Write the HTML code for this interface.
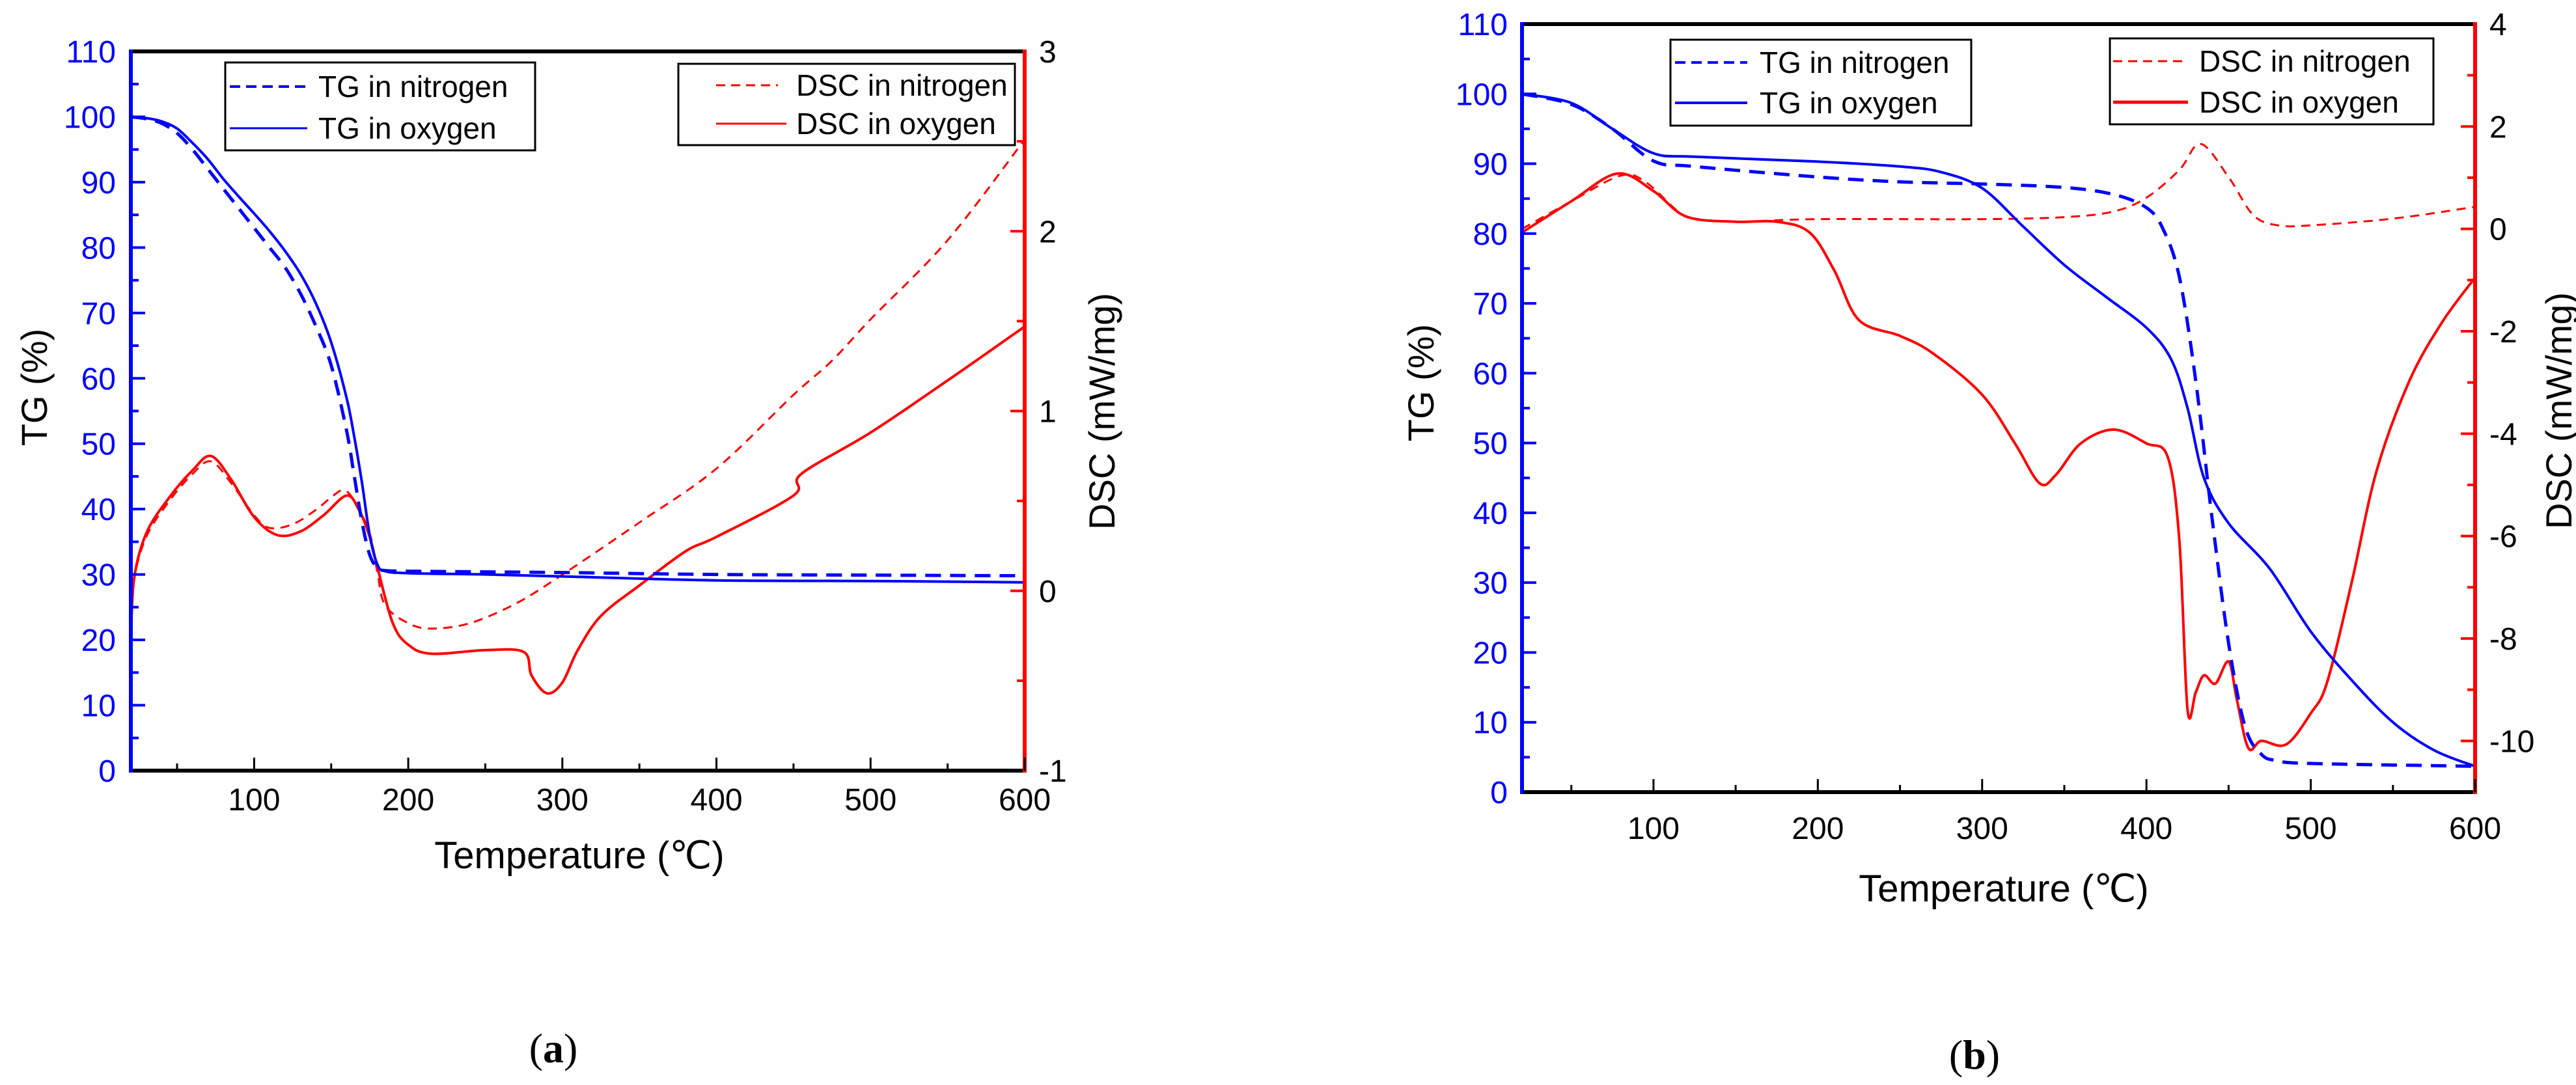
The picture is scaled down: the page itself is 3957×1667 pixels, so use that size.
<!DOCTYPE html>
<html><head><meta charset="utf-8">
<style>
html,body{margin:0;padding:0;background:#fff;}
svg{display:block;font-family:"Liberation Sans",Arial,sans-serif;}
</style></head>
<body>
<svg id="fig" width="3957" height="1667" viewBox="0 0 3957 1667" xmlns="http://www.w3.org/2000/svg"></svg>
<script>
// ---- Panel (a) data ----
const aTgTemps = [20,30,40,50,60,70,80,90,100,110,120,130,140,150,160,165,170,175,180,185,200,250,300,400,500,600];
const aTgNitrogen = [100,99.7,99,97.5,95,92,89,86,83,80,77,73,68,62,52,45,38,33,31,30.6,30.5,30.4,30.3,30,29.9,29.8];
const aTgOxygen = [100,99.8,99.3,98.2,96,93.5,90.5,87.8,85.2,82.5,79.5,76,71.5,65.5,57,51,44,36,31.5,30.5,30.2,30,29.7,29.1,29,28.8];
const aDscNTemps = [20,22,30,45,60,72,85,100,110,125,140,150,158,165,175,180,185,200,215,240,270,300,350,400,450,475,500,550,600];
const aDscNitrogen = [-0.3,0.05,0.3,0.5,0.65,0.72,0.6,0.42,0.35,0.37,0.45,0.52,0.56,0.5,0.32,0.1,-0.08,-0.18,-0.21,-0.18,-0.07,0.09,0.38,0.68,1.09,1.28,1.51,1.95,2.51];
const aDscOTemps = [20,22,30,45,60,72,85,100,115,130,145,160,168,175,180,190,200,215,250,275,280,290,300,310,325,350,380,400,450,455,500,550,600];
const aDscOxygen = [-0.3,0.06,0.32,0.52,0.67,0.75,0.62,0.41,0.31,0.33,0.42,0.53,0.45,0.3,0.13,-0.18,-0.3,-0.35,-0.33,-0.34,-0.47,-0.57,-0.51,-0.33,-0.14,0.03,0.22,0.3,0.53,0.65,0.88,1.17,1.47];
// ---- Panel (b) data ----
const bTgNTemps = [20,50,75,100,125,200,250,300,350,380,400,410,420,430,440,450,460,470,480,500,600];
const bTgNitrogen = [100,98.5,95,90.4,89.6,88.1,87.4,87.1,86.6,85.6,83.7,80.7,73.8,58.9,39.1,21.3,9.4,5.4,4.5,4.1,3.7];
const bTgOTemps = [20,50,75,100,125,200,250,275,300,325,350,375,400,415,425,435,450,475,500,525,550,575,600];
const bTgOxygen = [100,98.7,95,91.5,91,90.3,89.6,88.8,86.5,81,75.5,71,66.5,62,55,45,38.5,32,23,16,10,6,3.7];
const bDscNTemps = [20,50,80,95,115,125,150,200,300,350,380,400,420,433,450,465,480,500,550,600];
const bDscNitrogen = [0,0.54,1.04,0.92,0.34,0.2,0.14,0.19,0.19,0.23,0.34,0.61,1.15,1.66,1.01,0.27,0.07,0.07,0.2,0.43];
const bDscOTemps = [20,50,78,100,120,150,175,195,210,225,250,270,300,320,335,345,360,380,400,413,420,425,430,435,442,450,455,462,470,485,500,510,525,540,560,580,600];
const bDscOxygen = [-0.07,0.54,1.08,0.74,0.24,0.14,0.14,-0.07,-0.81,-1.78,-2.09,-2.43,-3.24,-4.19,-4.97,-4.8,-4.19,-3.92,-4.19,-4.46,-6.08,-9.39,-9.05,-8.72,-8.88,-8.45,-9.19,-10.14,-10.0,-10.07,-9.46,-8.85,-6.89,-4.73,-2.97,-1.82,-0.95];
const xTickLabels = [100,200,300,400,500,600];
const tgTickLabels = [0,10,20,30,40,50,60,70,80,90,100,110];
const aDscTickLabels = [-1,0,1,2,3];
const bDscTickLabels = [-10,-8,-6,-4,-2,0,2,4];

const NS='http://www.w3.org/2000/svg';
const svg=document.getElementById('fig');
function mk(tag,attrs,parent){const e=document.createElementNS(NS,tag);for(const k in attrs)e.setAttribute(k,attrs[k]);(parent||svg).appendChild(e);return e;}
function smooth(pts){
  let d='M'+pts[0][0].toFixed(1)+','+pts[0][1].toFixed(1);
  for(let i=0;i<pts.length-1;i++){
    const p0=pts[Math.max(0,i-1)],p1=pts[i],p2=pts[i+1],p3=pts[Math.min(pts.length-1,i+2)];
    const c1=[p1[0]+(p2[0]-p0[0])/6,p1[1]+(p2[1]-p0[1])/6];
    const c2=[p2[0]-(p3[0]-p1[0])/6,p2[1]-(p3[1]-p1[1])/6];
    d+=' C'+c1[0].toFixed(1)+','+c1[1].toFixed(1)+' '+c2[0].toFixed(1)+','+c2[1].toFixed(1)+' '+p2[0].toFixed(1)+','+p2[1].toFixed(1);
  }
  return d;
}
function panel(c){
  const g=mk('g',{});
  
  
  const sx=v=>c.L+(v-20)/(600-20)*(c.R-c.L);
  const sy=v=>c.B-(v/110)*(c.B-c.T);
  const sd=v=>c.B-(v-c.dMin)/(c.dMax-c.dMin)*(c.B-c.T);
  // series
  function series(xs,ys,scale,color,w,dash,name){
    const p=mk('path',{d:smooth(xs.map((x,i)=>[sx(x),scale(ys[i])])),fill:'none',stroke:color,'stroke-width':w,'stroke-linejoin':'round'},g);
    if(dash)p.setAttribute('stroke-dasharray',dash);
    
    
  }
  series(c.dnx,c.dny,sd,'#ff0000',3,'14 10','dsc-nitrogen-line');
  series(c.dox,c.doy,sd,'#ff0000',4,null,'dsc-oxygen-line');
  series(c.tnx,c.tny,sy,'#0000ff',5,'24 14','tg-nitrogen-line');
  series(c.tox,c.toy,sy,'#0000ff',4,null,'tg-oxygen-line');
  // axes
  const top=mk('line',{x1:c.L,y1:c.T,x2:c.R,y2:c.T,stroke:'#000','stroke-width':6},g);
  
  const bot=mk('line',{x1:c.L,y1:c.B,x2:c.R,y2:c.B,stroke:'#000','stroke-width':6},g);
  
  const la=mk('line',{x1:c.L,y1:c.T-3,x2:c.L,y2:c.B+3,stroke:'#0000ff','stroke-width':6},g);
  
  const ra=mk('line',{x1:c.R,y1:c.T-3,x2:c.R,y2:c.B+3,stroke:'#ff0000','stroke-width':6},g);
  
  // x ticks
  for(let v=50;v<=600;v+=50){
    const maj=v%100===0;
    mk('line',{x1:sx(v),y1:c.B,x2:sx(v),y2:c.B-(maj?20:11),stroke:'#000','stroke-width':3},g);
  }
  xTickLabels.forEach(v=>{
    const t=mk('text',{x:sx(v),y:c.xLabY,'font-size':48,'text-anchor':'middle',fill:'#000'},g);
    t.textContent=v;
    
  });
  // TG ticks
  for(let v=5;v<110;v+=5){
    const maj=v%10===0;
    mk('line',{x1:c.L,y1:sy(v),x2:c.L+(maj?22:12),y2:sy(v),stroke:'#0000ff','stroke-width':4},g);
  }
  tgTickLabels.forEach(v=>{
    const t=mk('text',{x:c.L-c.lGap,y:sy(v)+17,'font-size':48,'text-anchor':'end',fill:'#0000ff'},g);
    t.textContent=v;
    
  });
  // DSC ticks
  for(let v=c.dMin+c.dMinor;v<c.dMax;v+=c.dMinor){
    const maj=Math.abs(v/c.dMajor-Math.round(v/c.dMajor))<1e-6;
    mk('line',{x1:c.R,y1:sd(v),x2:c.R-(maj?22:12),y2:sd(v),stroke:'#ff0000','stroke-width':4},g);
  }
  c.dLabels.forEach(v=>{
    const t=mk('text',{x:c.R+c.rGap,y:sd(v)+17,'font-size':48,'text-anchor':'start',fill:'#000'},g);
    t.textContent=v;
    
  });
  // axis titles
  const xt=mk('text',{x:c.xtX,y:c.xtY,'font-size':58,'text-anchor':'middle',fill:'#000'},g);
  xt.textContent='Temperature (\u2103)';
  
  const yt=mk('text',{x:0,y:0,'font-size':56,'text-anchor':'middle',fill:'#000',transform:`translate(${c.ytX},${c.ytY}) rotate(-90)`},g);
  yt.textContent='TG (%)';
  
  const dt=mk('text',{x:0,y:0,'font-size':56,'text-anchor':'middle',fill:'#000',transform:`translate(${c.dtX},${c.dtY}) rotate(-90)`},g);
  dt.textContent='DSC (mW/mg)';
  
  // legends
  function legend(box,items,name){
    const lg=mk('g',{},g);
    
    mk('rect',{x:box[0],y:box[1],width:box[2]-box[0],height:box[3]-box[1],fill:'#fff',stroke:'#000','stroke-width':3},lg);
    items.forEach(it=>{
      const ln=mk('line',{x1:it.l1,y1:it.y,x2:it.l2,y2:it.y,stroke:it.color,'stroke-width':it.w},lg);
      if(it.dash)ln.setAttribute('stroke-dasharray',it.dash);
      
      const t=mk('text',{x:it.tx,y:it.y+16,'font-size':46,fill:'#000'},lg);
      t.textContent=it.label;
      
    });
  }
  legend(c.tgBox,c.tgItems,'tg-legend');
  legend(c.dscBox,c.dscItems,'dsc-legend');
  const cap=mk('text',{x:c.capX,y:c.capY,'font-size':64,'text-anchor':'middle',fill:'#000','font-family':'Liberation Serif, serif'},svg);
  cap.innerHTML='(<tspan font-weight="bold">'+c.cap+'</tspan>)';
  
}
panel({name:'panel-a',L:201,R:1574,T:79,B:1184,dMin:-1,dMax:3,dMajor:1,dMinor:0.5,dLabels:aDscTickLabels,
  tnx:aTgTemps,tny:aTgNitrogen,tox:aTgTemps,toy:aTgOxygen,dnx:aDscNTemps,dny:aDscNitrogen,dox:aDscOTemps,doy:aDscOxygen,
  xLabY:1245,lGap:23,rGap:22,xtX:890,xtY:1334,ytX:72,ytY:595,dtX:1712,dtY:632,capX:850,capY:1632,cap:'a',
  tgBox:[346,96,822,231],tgItems:[{l1:353,l2:472,y:133,color:'#0000ff',w:4,dash:'16 9',tx:489,label:'TG in nitrogen'},{l1:353,l2:472,y:197,color:'#0000ff',w:3,tx:489,label:'TG in oxygen'}],
  dscBox:[1042,98,1559,223],dscItems:[{l1:1100,l2:1195,y:131,color:'#ff0000',w:3,dash:'14 9',tx:1223,label:'DSC in nitrogen'},{l1:1100,l2:1208,y:190,color:'#ff0000',w:3,tx:1223,label:'DSC in oxygen'}]});
panel({name:'panel-b',L:2338,R:3802,T:37,B:1217,dMin:-11,dMax:4,dMajor:2,dMinor:1,dLabels:bDscTickLabels,
  tnx:bTgNTemps,tny:bTgNitrogen,tox:bTgOTemps,toy:bTgOxygen,dnx:bDscNTemps,dny:bDscNitrogen,dox:bDscOTemps,doy:bDscOxygen,
  xLabY:1289,lGap:22,rGap:22,xtX:3078,xtY:1385,ytX:2202,ytY:588,dtX:3950,dtY:631,capX:3033,capY:1642,cap:'b',
  tgBox:[2566,61,3028,193],tgItems:[{l1:2573,l2:2684,y:96,color:'#0000ff',w:4,dash:'16 9',tx:2703,label:'TG in nitrogen'},{l1:2573,l2:2684,y:158,color:'#0000ff',w:4,tx:2703,label:'TG in oxygen'}],
  dscBox:[3241,59,3738,191],dscItems:[{l1:3246,l2:3361,y:94,color:'#ff0000',w:3,dash:'14 9',tx:3378,label:'DSC in nitrogen'},{l1:3246,l2:3361,y:157,color:'#ff0000',w:5,tx:3378,label:'DSC in oxygen'}]});
</script>
</body></html>
